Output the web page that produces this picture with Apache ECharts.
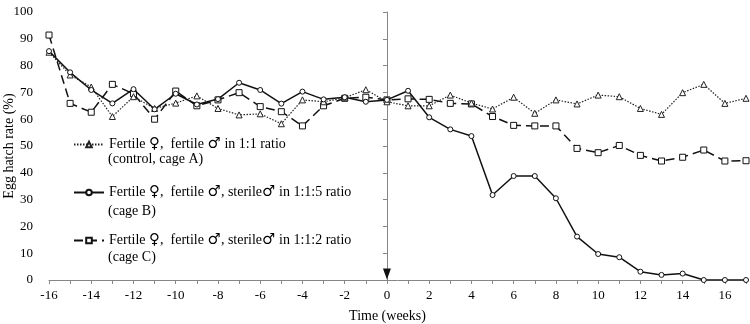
<!DOCTYPE html>
<html>
<head>
<meta charset="utf-8">
<script src="https://cdn.jsdelivr.net/npm/echarts@6/dist/echarts.min.js"></script>
<style>
html,body{margin:0;padding:0;background:#fff;}
#chart{width:750px;height:324px;}
</style>
</head>
<body>
<div id="chart"></div>
<script>
const weeks = [-16,-15,-14,-13,-12,-11,-10,-9,-8,-7,-6,-5,-4,-3,-2,-1,0,1,2,3,4,5,6,7,8,9,10,11,12,13,14,15,16,17];
const cageA = [85,76.5,72,61,68.4,64,66,68.7,64,61.6,62,58.3,67.2,66.5,68,71,66.5,65,65,69,66,63.8,68.2,62.2,67.2,65.7,69,68.4,64,61.8,69.9,73,65.9,67.8];
const cageB = [85.4,77.5,70.9,65.9,71.2,63.7,69.5,65.5,67.5,73.6,70.9,65.8,70.3,67.4,68.2,66.5,67.2,70.6,60.7,56.2,53.7,31.7,38.8,38.8,30.5,16.2,9.7,8.5,3.1,1.9,2.4,0,0,0];
const cageC = [91.4,65.9,62.6,73,69.5,60,70.5,65,67.2,69.9,64.7,62.8,57.5,65,67.8,68.2,67.2,67.6,67.4,65.9,65.7,61,57.7,57.5,57.5,49.1,47.5,50.2,46.5,44.4,45.8,48.5,44.4,44.5];
const seriesNames = ['Fertile \u2640,  fertile \u2642 in 1:1 ratio','Fertile \u2640,  fertile \u2642, sterile\u2642 in 1:1:5 ratio','Fertile \u2640,  fertile \u2642, sterile\u2642 in 1:1:2 ratio'];
const seriesNotes = ['(control, cage A)','(cage B)','(cage C)'];
const xTitle = 'Time (weeks)';
const yTitle = 'Egg hatch rate (%)';
const releaseWeek = 0;

const font = '"Liberation Serif", "Times New Roman", serif';
const pairs = arr => weeks.map((w,i)=>[w,arr[i]]);
const chart = echarts.init(document.getElementById('chart'));
chart.setOption({
  animation:false,
  backgroundColor:'#fff',
  textStyle:{fontFamily:font},
  grid:{left:49,right:4,top:12,bottom:44,containLabel:false,outerBoundsMode:'none'},
  xAxis:{
    type:'value',min:-16,max:17,interval:2,
    name:xTitle,nameLocation:'middle',nameGap:29,nameMoveOverlap:false,
    nameTextStyle:{fontFamily:font,fontSize:14,color:'#000',padding:[0,20,0,0]},
    axisLine:{onZero:false,lineStyle:{color:'#868686',width:1}},
    axisTick:{show:true,length:4,inside:false,lineStyle:{color:'#868686'}},
    minorTick:{show:true,splitNumber:2,length:4,lineStyle:{color:'#868686'}},
    axisLabel:{fontFamily:font,fontSize:13,color:'#000',margin:9,showMaxLabel:false},
    splitLine:{show:false}
  },
  yAxis:{
    type:'value',min:0,max:100,interval:10,
    name:yTitle,nameLocation:'middle',nameGap:33,nameMoveOverlap:false,
    nameTextStyle:{fontFamily:font,fontSize:14,color:'#000'},
    axisLine:{show:true,lineStyle:{color:'#868686',width:1}},
    axisTick:{show:true,length:4,lineStyle:{color:'#868686'}},
    axisLabel:{fontFamily:font,fontSize:13,color:'#000',margin:16},
    splitLine:{show:false}
  },
  legend:{
    orient:'vertical',left:68,top:132,itemGap:33,itemWidth:30,itemHeight:7,
    textStyle:{fontFamily:font,fontSize:14,color:'#000',
      rich:{s:{fontFamily:'"DejaVu Serif", serif',fontSize:15,color:'#000'}}},
    formatter:name=>name.replace(/([\u2640\u2642])/g,'{s|$1}'),
    data:seriesNames
  },
  graphic:seriesNotes.map((t,i)=>({type:'text',left:108,top:[152,204,250][i],style:{text:t,font:'14px '+font,fill:'#000'}})),
  series:[
    {name:seriesNames[0],type:'line',data:pairs(cageA),symbol:'triangle',symbolSize:6,clip:false,
     itemStyle:{color:'#fff',borderColor:'#222',borderWidth:1},
     lineStyle:{color:'#222',width:1.2,type:[1.5,1.5]},
     markLine:{silent:true,symbol:['none','none'],label:{show:false},
       lineStyle:{color:'#6e6e6e',width:2,type:'solid'},
       data:[[{coord:[releaseWeek,104.6]},{coord:[releaseWeek,3]}]]},
     z:3},
    {name:seriesNames[1],type:'line',data:pairs(cageB),symbol:'circle',symbolSize:5,
     itemStyle:{color:'#fff',borderColor:'#111',borderWidth:1},
     lineStyle:{color:'#111',width:1.5,type:'solid'},z:4},
    {name:seriesNames[2],type:'line',data:pairs(cageC),symbol:'rect',symbolSize:6,
     itemStyle:{color:'#fff',borderColor:'#111',borderWidth:1},
     lineStyle:{color:'#111',width:1.5,type:[9,5]},z:2},
    {name:'release',type:'scatter',data:[[releaseWeek,0]],symbol:'triangle',symbolSize:[8,11],
     symbolRotate:180,symbolOffset:[0,-6],silent:true,clip:false,
     itemStyle:{color:'#111',opacity:1},z:5}
  ]
});
</script>
</body>
</html>
